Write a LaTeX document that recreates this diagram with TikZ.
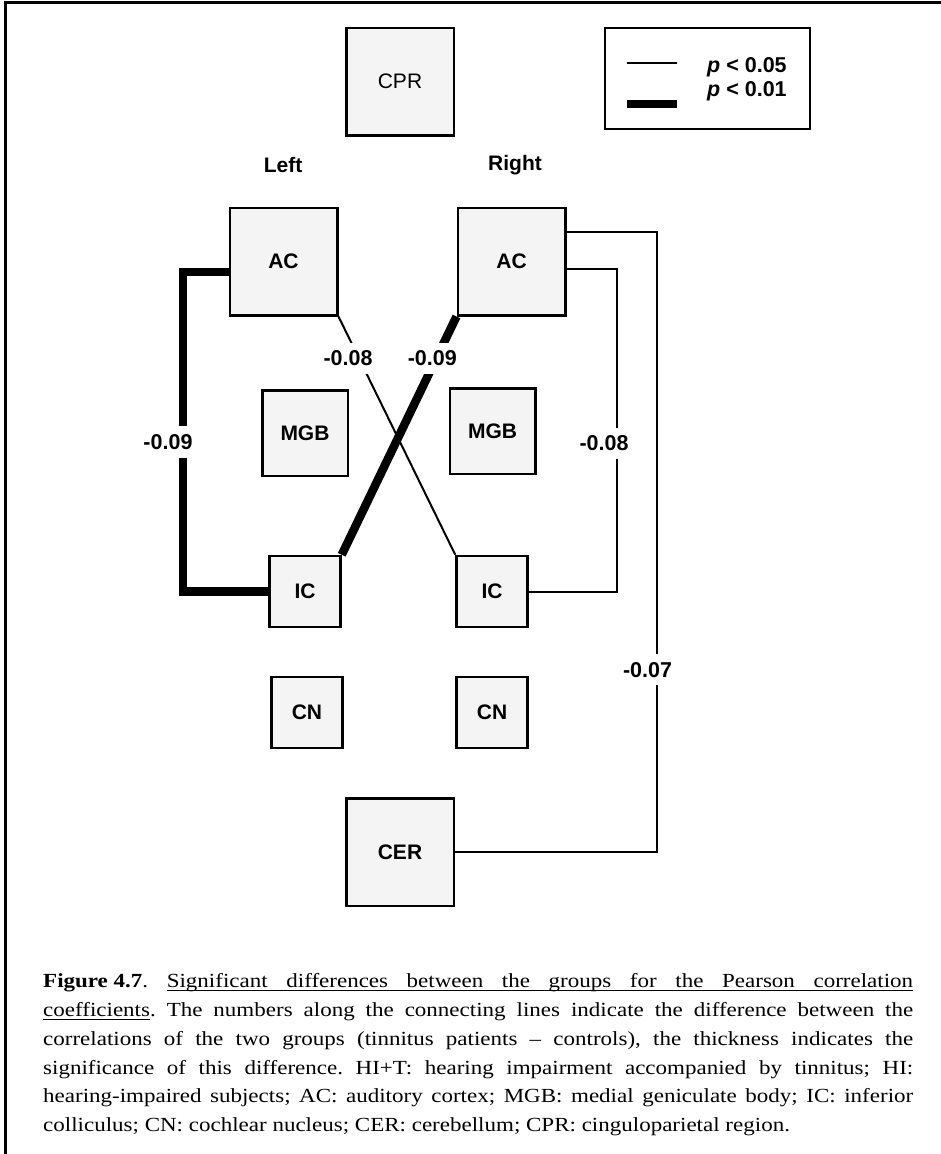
\documentclass[tikz,border=0pt]{standalone}
\usepackage{fontspec}
\setmainfont{Liberation Serif}[FakeStretch=1.15]
\setsansfont{Liberation Sans}
\usepackage{xcolor}
\usepackage{tikz}
\usetikzlibrary{positioning}

\definecolor{boxgray}{HTML}{F4F4F4}

% underlined word and underlined stretchable space
\newcommand\ulw[1]{\leavevmode\setbox0\hbox{#1}\rlap{\vrule height -2.5pt depth 3.6pt width \wd0}\box0}
\newcommand\ulsp{\leaders\hrule height -2.5pt depth 3.6pt\hskip\fontdimen2\font plus \fontdimen3\font minus \fontdimen4\font\relax}

\tikzset{
  region/.style={draw, fill=boxgray, line width=2.5pt, inner sep=0pt,
    font=\sffamily\bfseries\fontsize{21}{25}\selectfont},
  bigregion/.style={region, minimum size=107.5pt},
  midregion/.style={region, minimum size=85.5pt},
  smallregion/.style={region, minimum size=71pt},
  thinlink/.style={line width=2pt},
  thicklink/.style={line width=8.5pt},
  diff/.style={fill=white, inner xsep=1pt, inner ysep=8pt,
    font=\sffamily\bfseries\fontsize{21.5}{25}\selectfont},
  side/.style={anchor=base, inner sep=0pt,
    font=\sffamily\bfseries\fontsize{21}{25}\selectfont},
}

\begin{document}
\begin{tikzpicture}[x=1pt, y=-1pt]
\useasboundingbox (0,0) rectangle (941,1154);
\draw[line width=3pt] (5.5,1170) -- (5.5,2.5) -- (960,2.5);

% regions
\node[bigregion, font=\sffamily\fontsize{21}{25}\selectfont] (cpr) at (400,81.5) {CPR};
\node[bigregion] (acL) at (283.5,261.5) {AC};
\node[bigregion, right=118pt of acL] (acR) {AC};
\node[midregion] (mgbL) at (305,433) {MGB};
\node[midregion] (mgbR) at (492.5,431) {MGB};
\node[smallregion] (icL) at (305,591.5) {IC};
\node[smallregion] (icR) at (492,591.5) {IC};
\node[smallregion] (cnL) at (307,712.5) {CN};
\node[smallregion] (cnR) at (492,712.5) {CN};
\node[bigregion] (cer) at (400,852) {CER};

\node[side] (left) at (283,172) {Left};
\node[side] (right) at (515,170) {Right};

% differences
\draw[thicklink] ([yshift=-10.5pt]acL.west) -- ++(-45.5,0)
  |- node[diff, pos=0.266, xshift=-15pt] {-0.09} (icL.west);
\draw[thinlink] ([yshift=-7.5pt]acR.east) -- ++(50,0)
  |- node[diff, pos=0.27, xshift=-12.5pt] {-0.08} (icR.east);
\draw[thinlink] ([yshift=29.5pt]acR.east) -- ++(90,0)
  |- node[diff, pos=0.353, xshift=-9pt] {-0.07} (cer.east);
\draw[thinlink] (acL.south east)
  -- node[diff, pos=0.176, xshift=-11pt] {-0.08} (icR.north west);
\draw[thicklink] (icL.north east)
  -- node[diff, pos=0.824, xshift=-4pt] {-0.09} (acR.south west);

% legend
\node[draw, line width=2pt, minimum width=205pt, minimum height=101pt,
  inner sep=0pt] (legend) at (707.5,78.5) {};
\coordinate (lgthin) at (627,63);
\coordinate (lgthick) at (627,104);
\draw[thinlink] (lgthin) -- ++(50,0);
\draw[thicklink] (lgthick) -- ++(50,0);
\node[anchor=base west, inner sep=0pt, font=\sffamily\bfseries\fontsize{21.5}{25}\selectfont]
  (p05) at (707,72) {\textit{p} < 0.05};
\node[anchor=base west, inner sep=0pt, font=\sffamily\bfseries\fontsize{21.5}{25}\selectfont]
  (p01) at (707,96) {\textit{p} < 0.01};

% caption
\node[anchor=north west, text width=870pt, align=justify, inner sep=0pt,
  font=\fontsize{20}{28.8}\selectfont] (caption) at (43,973.5) {\noindent\frenchspacing
  \textbf{\mbox{Figure 4.7}}. \ulw{Significant}\ulsp\ulw{differences}\ulsp\ulw{between}\ulsp\ulw{the}\ulsp\ulw{groups}\ulsp\ulw{for}\ulsp\ulw{the}\ulsp\ulw{Pearson}\ulsp\ulw{correlation}\linebreak
  \ulw{coefficients}. The numbers along the connecting lines indicate the difference between the\linebreak
  correlations of the two groups (tinnitus patients – controls), the thickness indicates the\linebreak
  significance of this difference. HI+T: hearing impairment accompanied by tinnitus; HI:\linebreak
  hearing-impaired subjects; AC: auditory cortex; MGB: medial geniculate body; IC: inferior\linebreak
  colliculus; CN: cochlear nucleus; CER: cerebellum; CPR: cinguloparietal region.};
\end{tikzpicture}
\end{document}
